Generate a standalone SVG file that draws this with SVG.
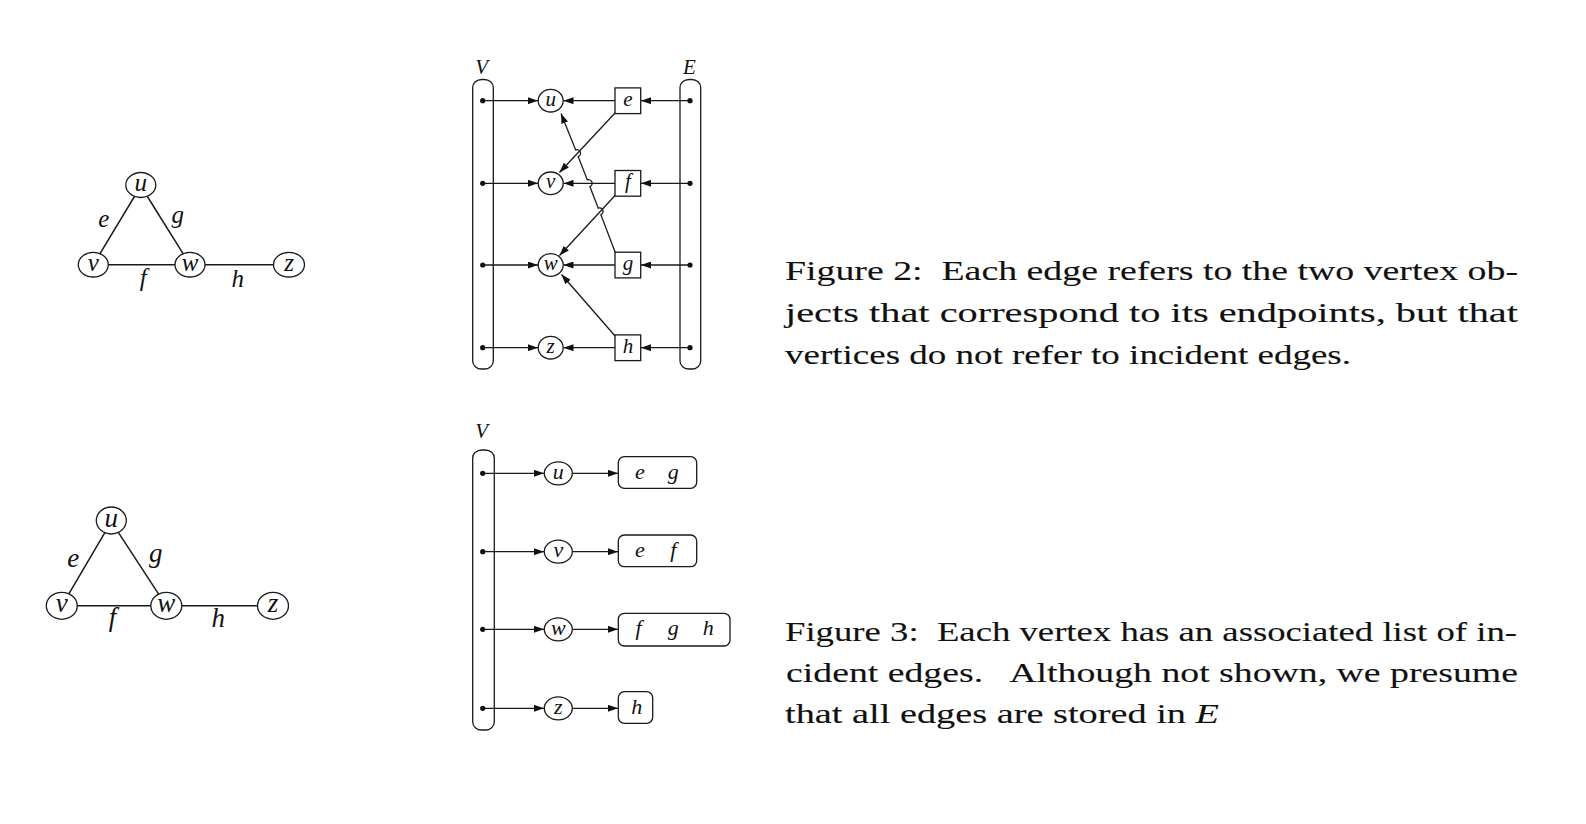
<svg xmlns="http://www.w3.org/2000/svg" width="1586" height="824" viewBox="0 0 1586 824">
<defs>
<marker id="ah" markerUnits="userSpaceOnUse" markerWidth="10" markerHeight="7" viewBox="0 0 10 7" refX="10" refY="3.5" orient="auto"><path d="M0,0 L10,3.5 L0,7 z" fill="#111"/></marker>
</defs>
<style>
.bg{fill:#fff}
.ln{stroke:#1a1a1a;stroke-width:1.5;fill:none}
.ar{stroke:#1a1a1a;stroke-width:1.3;fill:none;marker-end:url(#ah)}
.nd{fill:#fff;stroke:#1a1a1a;stroke-width:1.3}
.ct{fill:#fff;stroke:#1a1a1a;stroke-width:1.3}
.dot{fill:#111}
.lb{font-family:"Liberation Serif","Times New Roman",serif;font-style:italic;fill:#111;text-anchor:middle}
.s23{font-size:25px}
.s25{font-size:27px}
.s21{font-size:21px}
.s22{font-size:22px}
.cap{font-family:"Liberation Serif","Times New Roman",serif;font-size:28px;fill:#111;stroke:#111;stroke-width:0.1;white-space:pre}
</style>
<rect class="bg" x="0" y="0" width="1586" height="824"/>

<!-- Figure 2 left graph -->
<g id="fig2-graph-edges">
<line class="ln" x1="140.8" y1="186" x2="93.3" y2="264.7"/>
<line class="ln" x1="140.8" y1="186" x2="190" y2="264.7"/>
<line class="ln" x1="93.3" y1="264.7" x2="289" y2="264.7"/>
</g>
<g id="g2-u"><ellipse class="nd" cx="140.8" cy="185" rx="15" ry="12.5"/><text class="lb s23" x="140.8" y="190.8">u</text></g>
<g id="g2-v"><ellipse class="nd" cx="93.3" cy="264.7" rx="15" ry="12.3"/><text class="lb s23" x="93.3" y="270.5">v</text></g>
<g id="g2-w"><ellipse class="nd" cx="190" cy="264.7" rx="15" ry="12.3"/><text class="lb s23" x="190" y="270.5">w</text></g>
<g id="g2-z"><ellipse class="nd" cx="289" cy="264.7" rx="15.5" ry="12.3"/><text class="lb s23" x="289" y="270.5">z</text></g>
<g id="g2-labels">
<text class="lb s23" x="103.7" y="227">e</text>
<text class="lb s23" x="177.8" y="223">g</text>
<text class="lb s23" x="143.3" y="286">f</text>
<text class="lb s23" x="237.8" y="287">h</text>
</g>

<!-- Figure 2 middle: edge list -->
<g id="f2-V"><rect class="ct" x="472.7" y="79.5" width="20.6" height="289.5" rx="9" ry="8"/><text class="lb s21" x="481.7" y="74">V</text></g>
<g id="f2-E"><rect class="ct" x="680" y="79.5" width="20.7" height="289.5" rx="9" ry="8"/><text class="lb s21" x="689.5" y="74">E</text></g>
<g id="f2-connectors">
<path class="ar" d="M482.7,100.7 H538"/>
<path class="ar" d="M482.7,183.3 H538"/>
<path class="ar" d="M482.7,265 H538"/>
<path class="ar" d="M482.7,347.7 H538"/>
<path class="ar" d="M615,100.7 H563.5"/>
<path class="ar" d="M615,183.3 H563.5"/>
<path class="ar" d="M615,265 H563.5"/>
<path class="ar" d="M615,347.7 H563.5"/>
<path class="ar" d="M690,100.7 H641"/>
<path class="ar" d="M690,183.3 H641"/>
<path class="ar" d="M690,265 H641"/>
<path class="ar" d="M690,347.7 H641"/>
<path class="ar" d="M615.5,112.5 L559.5,172.5"/>
<path class="ar" d="M615.5,195 L559.5,255.5"/>
<path class="ar" d="M615.5,336.5 L561.5,274.5"/>
<path class="ar" d="M615.3,252.5 L600.83,214.74 A3.55,3.55 0 0 0 598.26,208.12 L589.89,186.59 A3.55,3.55 0 0 0 587.32,179.96 L578.26,156.64 A3.55,3.55 0 0 0 575.69,150.02 L561,113.5"/>
</g>
<g id="f2-Vdots"><circle class="dot" cx="482.7" cy="100.7" r="2.6"/><circle class="dot" cx="482.7" cy="183.3" r="2.6"/><circle class="dot" cx="482.7" cy="265" r="2.6"/><circle class="dot" cx="482.7" cy="347.7" r="2.6"/></g>
<g id="f2-Edots"><circle class="dot" cx="690" cy="100.7" r="2.6"/><circle class="dot" cx="690" cy="183.3" r="2.6"/><circle class="dot" cx="690" cy="265" r="2.6"/><circle class="dot" cx="690" cy="347.7" r="2.6"/></g>
<g id="f2-u"><ellipse class="nd" cx="550.7" cy="100.7" rx="12.5" ry="11.3"/><text class="lb s21" x="550.7" y="105.7">u</text></g>
<g id="f2-v"><ellipse class="nd" cx="550.7" cy="183.3" rx="12.5" ry="11.3"/><text class="lb s21" x="550.7" y="188.3">v</text></g>
<g id="f2-w"><ellipse class="nd" cx="550.7" cy="265" rx="12.5" ry="11.3"/><text class="lb s21" x="550.7" y="270">w</text></g>
<g id="f2-z"><ellipse class="nd" cx="550.7" cy="347.7" rx="12.5" ry="11.3"/><text class="lb s21" x="550.7" y="352.7">z</text></g>
<g id="f2-e"><rect class="nd" x="615" y="87.9" width="25.7" height="25.7"/><text class="lb s21" x="627.9" y="105.7">e</text></g>
<g id="f2-f"><rect class="nd" x="615" y="170.5" width="25.7" height="25.7"/><text class="lb s21" x="627.9" y="188.3">f</text></g>
<g id="f2-g"><rect class="nd" x="615" y="252.2" width="25.7" height="25.7"/><text class="lb s21" x="627.9" y="270">g</text></g>
<g id="f2-h"><rect class="nd" x="615" y="334.9" width="25.7" height="25.7"/><text class="lb s21" x="627.9" y="352.7">h</text></g>

<!-- Figure 2 caption -->
<g id="caption2">
<text class="cap" x="785" y="280" textLength="733" lengthAdjust="spacingAndGlyphs">Figure 2:  Each edge refers to the two vertex ob-</text>
<text class="cap" x="785" y="322" textLength="733" lengthAdjust="spacingAndGlyphs">jects that correspond to its endpoints, but that</text>
<text class="cap" x="785" y="364" textLength="566" lengthAdjust="spacingAndGlyphs">vertices do not refer to incident edges.</text>
</g>

<!-- Figure 3 left graph -->
<g id="fig3-graph-edges">
<line class="ln" x1="111.3" y1="521.7" x2="61.8" y2="605.8"/>
<line class="ln" x1="111.3" y1="521.7" x2="166.3" y2="605.8"/>
<line class="ln" x1="61.8" y1="605.8" x2="273" y2="605.8"/>
</g>
<g id="g3-u"><ellipse class="nd" cx="111.3" cy="520.5" rx="15" ry="13.5"/><text class="lb s25" x="111.3" y="526.8">u</text></g>
<g id="g3-v"><ellipse class="nd" cx="61.8" cy="605.8" rx="15.5" ry="13.5"/><text class="lb s25" x="61.8" y="612">v</text></g>
<g id="g3-w"><ellipse class="nd" cx="166.3" cy="605.8" rx="15.5" ry="13.5"/><text class="lb s25" x="166.3" y="612">w</text></g>
<g id="g3-z"><ellipse class="nd" cx="273" cy="605.8" rx="15.5" ry="13.5"/><text class="lb s25" x="273" y="612">z</text></g>
<g id="g3-labels">
<text class="lb s25" x="73.3" y="567">e</text>
<text class="lb s25" x="155.8" y="561.5">g</text>
<text class="lb s25" x="112.5" y="626">f</text>
<text class="lb s25" x="218.3" y="626.5">h</text>
</g>

<!-- Figure 3 middle: adjacency list -->
<g id="f3-V"><rect class="ct" x="472.7" y="450" width="21.6" height="280" rx="9" ry="8"/><text class="lb s21" x="481.7" y="437.7">V</text></g>
<g id="f3-connectors">
<path class="ar" d="M482.7,473.3 H544"/>
<path class="ar" d="M482.7,551.7 H544"/>
<path class="ar" d="M482.7,629.3 H544"/>
<path class="ar" d="M482.7,708.3 H544"/>
<path class="ar" d="M572.5,473.3 H618"/>
<path class="ar" d="M572.5,551.7 H618"/>
<path class="ar" d="M572.5,629.3 H618"/>
<path class="ar" d="M572.5,708.3 H618"/>
</g>
<g id="f3-Vdots"><circle class="dot" cx="482.7" cy="473.3" r="2.6"/><circle class="dot" cx="482.7" cy="551.7" r="2.6"/><circle class="dot" cx="482.7" cy="629.3" r="2.6"/><circle class="dot" cx="482.7" cy="708.3" r="2.6"/></g>
<g id="f3-u"><ellipse class="nd" cx="558.3" cy="473.3" rx="14" ry="11.5"/><text class="lb s22" x="558.3" y="478.7">u</text></g>
<g id="f3-v"><ellipse class="nd" cx="558.3" cy="551.7" rx="14" ry="11.5"/><text class="lb s22" x="558.3" y="557.1">v</text></g>
<g id="f3-w"><ellipse class="nd" cx="558.3" cy="629.3" rx="14" ry="11.5"/><text class="lb s22" x="558.3" y="634.7">w</text></g>
<g id="f3-z"><ellipse class="nd" cx="558.3" cy="708.3" rx="14" ry="11.5"/><text class="lb s22" x="558.3" y="713.7">z</text></g>
<g id="f3-list-u"><rect class="nd" x="618.3" y="456.7" width="78.4" height="31.6" rx="6"/><text class="lb s22" x="640" y="478.7">e</text><text class="lb s22" x="673.3" y="478.7">g</text></g>
<g id="f3-list-v"><rect class="nd" x="618.3" y="535" width="78.4" height="31.7" rx="6"/><text class="lb s22" x="640" y="557.1">e</text><text class="lb s22" x="673.3" y="557.1">f</text></g>
<g id="f3-list-w"><rect class="nd" x="618.3" y="613.3" width="111.7" height="32.7" rx="6"/><text class="lb s22" x="638.5" y="634.7">f</text><text class="lb s22" x="673.3" y="634.7">g</text><text class="lb s22" x="708.3" y="634.7">h</text></g>
<g id="f3-list-z"><rect class="nd" x="618.3" y="691.7" width="34.4" height="31.6" rx="6"/><text class="lb s22" x="636.7" y="713.7">h</text></g>

<!-- Figure 3 caption -->
<g id="caption3">
<text class="cap" x="785" y="641" textLength="732" lengthAdjust="spacingAndGlyphs">Figure 3:  Each vertex has an associated list of in-</text>
<text class="cap" x="786" y="682" textLength="732" lengthAdjust="spacingAndGlyphs">cident edges.   Although not shown, we presume</text>
<text class="cap" x="785" y="723" textLength="434" lengthAdjust="spacingAndGlyphs">that all edges are stored in <tspan font-style="italic">E</tspan></text>
</g>
</svg>
